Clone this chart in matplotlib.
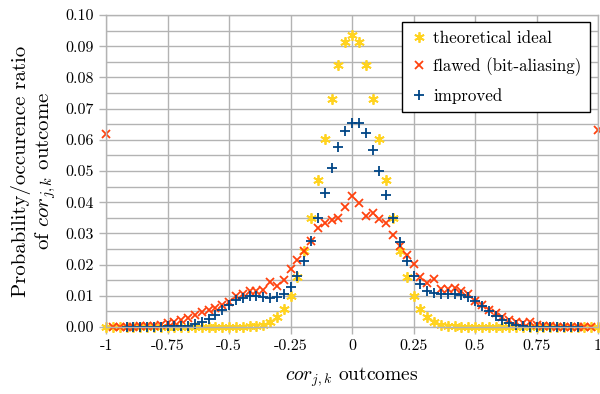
import matplotlib
matplotlib.use('Agg')
import matplotlib.pyplot as plt
import numpy as np

# x positions: cor outcomes in steps of 1/36
ideal_k = list(range(-36, 37))
flawed_k = list(range(-36, 37))
improved_k = list(range(-33, 34))

ideal = [
    # k = -36 .. -16
    0.0000, 0.0000, 0.0000, 0.0000, 0.0000, 0.0000, 0.0000, 0.0000, 0.0000, 0.0000,
    0.0000, 0.0000, 0.0000, 0.0000, 0.0000, 0.0000, 0.0000, 0.0000, 0.0000, 0.0000,
    0.0000,
    # k = -15 .. -1
    0.0002, 0.0004, 0.0008, 0.0017, 0.0032, 0.0058, 0.0100, 0.0160, 0.0243, 0.0348,
    0.0471, 0.0604, 0.0732, 0.0840, 0.0912,
    # k = 0
    0.0937,
    # k = 1 .. 15
    0.0912, 0.0840, 0.0732, 0.0604, 0.0471, 0.0348, 0.0243, 0.0160, 0.0100, 0.0058,
    0.0032, 0.0017, 0.0008, 0.0004, 0.0002,
    # k = 16 .. 36
    0.0000, 0.0000, 0.0000, 0.0000, 0.0000, 0.0000, 0.0000, 0.0000, 0.0000, 0.0000,
    0.0000, 0.0000, 0.0000, 0.0000, 0.0000, 0.0000, 0.0000, 0.0000, 0.0000, 0.0000,
    0.0000,
]

flawed = [
    0.0618, 0.0000, 0.0000, 0.0001, 0.0001, 0.0002, 0.0003, 0.0004, 0.0006, 0.0012,
    0.0017, 0.0022, 0.0030, 0.0040, 0.0047, 0.0054, 0.0062, 0.0071, 0.0081, 0.0100,
    0.0107, 0.0114, 0.0114, 0.0118, 0.0145, 0.0133, 0.0151, 0.0185, 0.0215, 0.0245,
    0.0277, 0.0316, 0.0332, 0.0344, 0.0349, 0.0386,
    0.0421,
    0.0398, 0.0356, 0.0364, 0.0345, 0.0334, 0.0295, 0.0260, 0.0230, 0.0203, 0.0161,
    0.0141, 0.0153, 0.0121, 0.0121, 0.0124, 0.0117, 0.0107, 0.0083, 0.0069, 0.0056,
    0.0045, 0.0032, 0.0024, 0.0017, 0.0012, 0.0017, 0.0006, 0.0003, 0.0002, 0.0001,
    0.0001, 0.0000, 0.0000, 0.0000, 0.0000, 0.0630,
]

improved = [
    0.0000, 0.0000, 0.0000, 0.0001, 0.0001, 0.0001, 0.0002, 0.0002, 0.0003, 0.0004,
    0.0010, 0.0017, 0.0025, 0.0038, 0.0055, 0.0071, 0.0085, 0.0093, 0.0098, 0.0099,
    0.0097, 0.0092, 0.0095, 0.0107, 0.0128, 0.0162, 0.0212, 0.0276, 0.0348, 0.0431,
    0.0508, 0.0577, 0.0629,
    0.0653,
    0.0653, 0.0622, 0.0568, 0.0501, 0.0424, 0.0348, 0.0272, 0.0212, 0.0165, 0.0137,
    0.0117, 0.0108, 0.0106, 0.0106, 0.0105, 0.0103, 0.0096, 0.0083, 0.0067, 0.0051,
    0.0036, 0.0024, 0.0013, 0.0006, 0.0003, 0.0001, 0.0000, 0.0000, 0.0000, 0.0000,
    0.0000, 0.0000, 0.0000,
]

x_ticks = [-1, -0.75, -0.5, -0.25, 0, 0.25, 0.5, 0.75, 1]
x_tick_labels = ['-1', '-0.75', '-0.5', '-0.25', '0', '0.25', '0.5', '0.75', '1']
y_ticks = [i / 100 for i in range(11)]

plt.rcParams['font.family'] = ['cmr10', 'DejaVu Serif']
plt.rcParams['mathtext.fontset'] = 'cm'
plt.rcParams['axes.unicode_minus'] = False
plt.rcParams['axes.formatter.use_mathtext'] = True

fig = plt.figure(figsize=(6.0, 3.94), dpi=100)
ax = fig.add_axes([0.1767, 0.170, 0.82, 0.792])

grid_col = '#b3b3b3'
ax.set_xlim(-1, 1)
ax.set_ylim(0, 0.1)
ax.set_xticks(x_ticks)
ax.set_xticklabels(x_tick_labels)
ax.set_yticks(y_ticks)
ax.set_yticklabels(['%.2f' % v for v in y_ticks])
ax.set_yticks(np.arange(0.005, 0.1, 0.01), minor=True)
ax.grid(True, which='major', color=grid_col, linewidth=1.0)
ax.grid(True, which='minor', axis='y', color=grid_col, linewidth=1.0)
ax.tick_params(axis='both', which='major', color=grid_col, length=5, width=1,
               labelsize=11.5, pad=4)
ax.tick_params(axis='y', which='minor', length=0)
for s in ax.spines.values():
    s.set_color(grid_col)
    s.set_linewidth(1.0)
ax.set_axisbelow(True)

ideal_x = [k / 36 for k in ideal_k]
flawed_x = [k / 36 for k in flawed_k]
improved_x = [k / 36 for k in improved_k]

ax.plot(ideal_x, ideal, linestyle='none', marker=(6, 2, 0), markersize=7.5,
        markeredgewidth=1.3, color='#ffd320', label='theoretical ideal', clip_on=False)
ax.plot(flawed_x, flawed, linestyle='none', marker='x', markersize=6,
        markeredgewidth=1.3, color='#ff420e', label='flawed (bit-aliasing)', clip_on=False)
ax.plot(improved_x, improved, linestyle='none', marker='+', markersize=6.5,
        markeredgewidth=1.3, color='#004586', label='improved', clip_on=False)

leg = ax.legend(loc='upper right', bbox_to_anchor=(0.984, 0.978), borderaxespad=0,
                fontsize=12.2, frameon=True, fancybox=False, framealpha=1,
                edgecolor='black', handlelength=1.0, handletextpad=0.35,
                borderpad=0.5, labelspacing=0.7)
leg.get_frame().set_linewidth(1.0)

ax.set_xlabel(r'$cor_{j,k}$ outcomes', fontsize=14, labelpad=9)
ax.set_ylabel('Probability/occurence ratio\n' + r'of $cor_{j,k}$ outcome', fontsize=15,
              labelpad=5, linespacing=1.15)

fig.savefig('out.png', dpi=100)
